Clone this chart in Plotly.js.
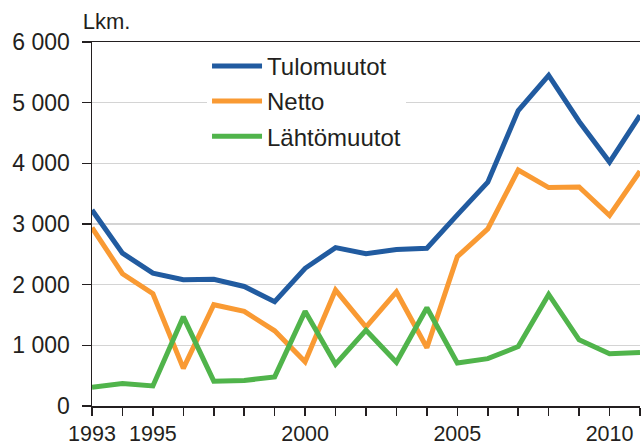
<!DOCTYPE html>
<html>
<head>
<meta charset="utf-8">
<script src="https://cdn.plot.ly/plotly-3.0.1.min.js"></script>
<style>
html,body{margin:0;padding:0;background:#fff;}
#chart{width:641px;height:445px;}
</style>
</head>
<body>
<div id="chart"></div>
<script>
const years = [1993,1994,1995,1996,1997,1998,1999,2000,2001,2002,2003,2004,2005,2006,2007,2008,2009,2010,2011];
const tulomuutot = [3230,2520,2190,2080,2090,1970,1720,2270,2610,2510,2580,2600,3150,3690,4870,5450,4690,4020,4790];
const netto = [2940,2180,1850,620,1670,1560,1240,730,1910,1300,1880,960,2460,2920,3890,3600,3610,3140,3870];
const lahtomuutot = [310,370,330,1470,410,420,480,1560,690,1250,720,1620,710,780,980,1840,1090,860,880];
const xTickVals = years;
const xTickText = ["1993","","1995","","","","","2000","","","","","2005","","","","","2010",""];
const yTickVals = [0,1000,2000,3000,4000,5000,6000];
const yTickText = ["0","1 000","2 000","3 000","4 000","5 000","6 000"];
const seriesNames = ["Tulomuutot","Netto","Lähtömuutot"];
const colors = ["#215BA0","#F99A33","#50B44B"];

const series = [tulomuutot, netto, lahtomuutot];
const traces = series.map((s,i)=>({
  x: years, y: s, type:'scatter', mode:'lines', name: seriesNames[i],
  legendgroup: 'g'+i,
  line:{color:colors[i], width:5, shape:'linear'}
}));

const layout = {
  width:641, height:445,
  margin:{l:92, r:1, t:42, b:39},
  paper_bgcolor:'#fff', plot_bgcolor:'#fff',
  font:{family:'"Liberation Sans", Arial, sans-serif', size:22, color:'#231f20'},
  title:{text:'Lkm.', x:0.129, xanchor:'left', xref:'container', y:0.935, yanchor:'bottom', yref:'container',
    font:{size:22, color:'#231f20'}, pad:{t:0,b:0,l:0,r:0}},
  showlegend:true,
  legend:{x:0.2099, y:0.995, xanchor:'left', yanchor:'top', bgcolor:'#fff', borderwidth:0,
    font:{size:24, color:'#231f20'}, itemwidth:50, tracegroupgap:1, traceorder:'grouped'},
  xaxis:{range:[1993,2011], tickmode:'array', tickvals:xTickVals, ticktext:xTickText,
    tickfont:{size:21.5},
    showgrid:false, zeroline:false, showline:true, linecolor:'#231f20', linewidth:1.5, mirror:true,
    ticks:'outside', ticklen:8, tickcolor:'#231f20', tickwidth:1.5, ticklabelstandoff:0, fixedrange:true},
  yaxis:{range:[0,6000], tickmode:'array', tickvals:yTickVals, ticktext:yTickText,
    tickfont:{size:23},
    showgrid:true, gridcolor:'#d4d4d4', gridwidth:1.2, zeroline:false, showline:true, linecolor:'#231f20', linewidth:1.5,
    ticks:'outside', ticklen:9, tickcolor:'#231f20', tickwidth:1.5, ticklabelstandoff:7}
};
Plotly.newPlot('chart', traces, layout, {staticPlot:true});
</script>
</body>
</html>
